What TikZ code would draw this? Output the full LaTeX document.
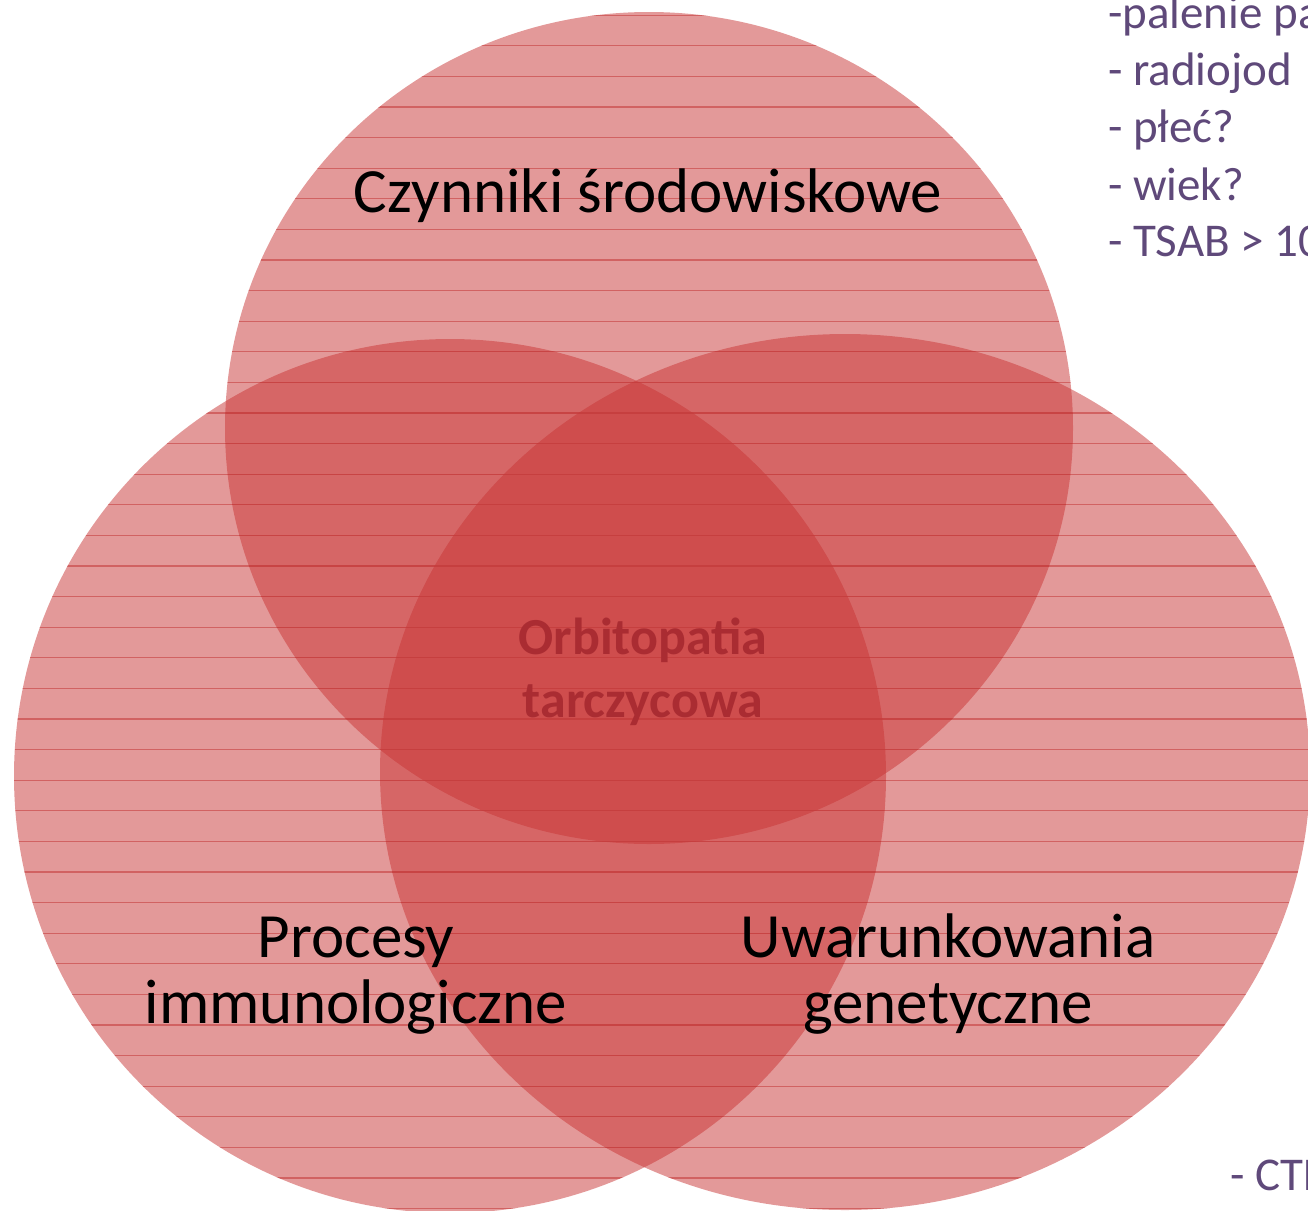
\documentclass[tikz,border=0pt]{standalone}
\usepackage{fontspec}
\setmainfont{Carlito}
\definecolor{vennfill}{RGB}{200,52,52}
\definecolor{vennline}{RGB}{198,62,62}
\definecolor{listpurple}{RGB}{95,73,122}
\definecolor{centertext}{RGB}{170,44,50}
\tikzset{
  vennshape/.style={fill=vennfill,fill opacity=0.5},
  stripe/.style={draw=vennline,opacity=0.6,line width=1.3pt},
  biglabel/.style={inner sep=0pt,anchor=base,font=\fontsize{63}{66}\selectfont,text=black},
  midlabel/.style={inner sep=0pt,anchor=base,font=\fontsize{52}{63}\selectfont\bfseries,text=centertext},
  listitem/.style={inner sep=0pt,anchor=base west,font=\fontsize{47}{57}\selectfont,text=listpurple}
}
\begin{document}
\begin{tikzpicture}[x=1pt,y=-1pt]
\useasboundingbox (0,0) rectangle (1308,1210);
% circles
\fill[vennshape] (649,428) ellipse [x radius=424, y radius=416];
\fill[vennshape] (450,776) ellipse [x radius=436, y radius=437];
\fill[vennshape] (845,772) ellipse [x radius=465, y radius=438];
% stripes
\begin{scope}
  \clip (649,428) ellipse [x radius=424, y radius=416];
  \foreach \k in {0,...,39} {\draw[stripe] (0,15.2+30.6*\k) -- (1308,15.2+30.6*\k);}
\end{scope}
\begin{scope}
  \clip (450,776) ellipse [x radius=436, y radius=437];
  \foreach \k in {0,...,39} {\draw[stripe] (0,15.2+30.6*\k) -- (1308,15.2+30.6*\k);}
\end{scope}
\begin{scope}
  \clip (845,772) ellipse [x radius=465, y radius=438];
  \foreach \k in {0,...,39} {\draw[stripe] (0,15.2+30.6*\k) -- (1308,15.2+30.6*\k);}
\end{scope}
% labels
\node[biglabel] (env) at (648,212) {Czynniki środowiskowe};
\node[biglabel] (imm1) at (356,957) {Procesy};
\node[biglabel] (imm2) at (356,1023) {immunologiczne};
\node[biglabel] (gen1) at (948,957) {Uwarunkowania};
\node[biglabel] (gen2) at (948,1023) {genetyczne};
\node[midlabel] (orb1) at (643,654) {Orbitopatia};
\node[midlabel] (orb2) at (643,717) {tarczycowa};
% list
\node[listitem] (l1) at (1108,28) {-palenie pa};
\node[listitem] (l2) at (1108,85) {- radiojod};
\node[listitem] (l3) at (1108,142) {- płeć?};
\node[listitem] (l4) at (1108,200) {- wiek?};
\node[listitem] (l5) at (1108,256) {- TSAB > 10};
\node[listitem] (l6) at (1230,1190) {- CTL};
\end{tikzpicture}
\end{document}
